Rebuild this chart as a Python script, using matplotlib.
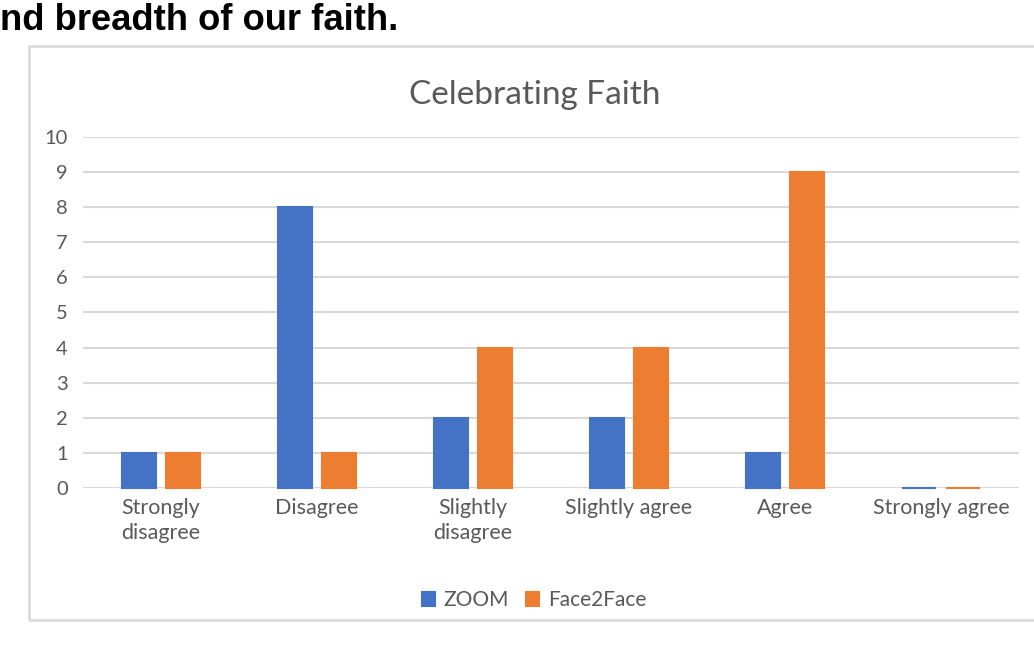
import matplotlib
matplotlib.use("Agg")
import matplotlib.pyplot as plt
from matplotlib.patches import Rectangle
import numpy as np

categories = ["Strongly\ndisagree", "Disagree", "Slightly\ndisagree", "Slightly agree", "Agree", "Strongly agree"]
zoom_vals = [1, 8, 2, 2, 1, 0]
f2f_vals = [1, 1, 4, 4, 9, 0]
series_names = ["ZOOM", "Face2Face"]
yticks = list(range(0, 11))

BLUE = "#4472C4"
ORANGE = "#ED7D31"
GRID = "#D9D9D9"
TXT = "#595959"
FONT = "Lato"

fig = plt.figure(figsize=(10.34, 6.47), dpi=100)
W, H = 1034, 647

# chart border
fig.patches.append(Rectangle((29 / W, 1 - 620 / H), (1060 - 29) / W, (620 - 46) / H,
                             transform=fig.transFigure, fill=False, edgecolor=GRID,
                             linewidth=1.8, zorder=0))

# heading text above chart (cut off at left in the source)
fig.text(0.0, 1 - 21 / H, "nd breadth of our faith.", family="Liberation Sans",
         fontweight="bold", fontsize=26.2, color="black", ha="left", va="center")

ax = fig.add_axes([83 / W, 1 - 488 / H, (1019 - 83) / W, (488 - 137) / H])
x = np.arange(len(categories))
w = 0.22
off = 0.142
b1 = ax.bar(x - off, zoom_vals, width=w, color=BLUE, edgecolor=BLUE, linewidth=1.5,
            label=series_names[0], zorder=3, clip_on=False)
b2 = ax.bar(x + off, f2f_vals, width=w, color=ORANGE, edgecolor=ORANGE, linewidth=1.5,
            label=series_names[1], zorder=3, clip_on=False)

ax.set_xlim(-0.5, len(categories) - 0.5)
ax.set_ylim(0, 10)
ax.set_yticks(yticks)
ax.set_yticklabels([str(t) for t in yticks], family=FONT, fontsize=14.5, color=TXT)
ax.set_xticks(x)
ax.set_xticklabels(categories, family=FONT, fontsize=15.5, color=TXT, linespacing=1.3)
ax.tick_params(axis="both", length=0)
ax.tick_params(axis="y", pad=11)
ax.tick_params(axis="x", pad=7)
for s in ax.spines.values():
    s.set_visible(False)
ax.yaxis.grid(True, color=GRID, linewidth=1.5, zorder=0)
ax.set_axisbelow(True)

fig.text(535 / W, 1 - 95 / H, "Celebrating Faith", family=FONT, fontsize=24,
         color=TXT, ha="center", va="center")

leg = fig.legend(loc="center", bbox_to_anchor=(534 / W, 1 - 600 / H), ncol=2, frameon=False,
                 prop={"family": FONT, "size": 15}, handlelength=0.65, handleheight=0.65,
                 handletextpad=0.4, columnspacing=0.8)
for t in leg.get_texts():
    t.set_color(TXT)

fig.savefig("out.png", dpi=100)
